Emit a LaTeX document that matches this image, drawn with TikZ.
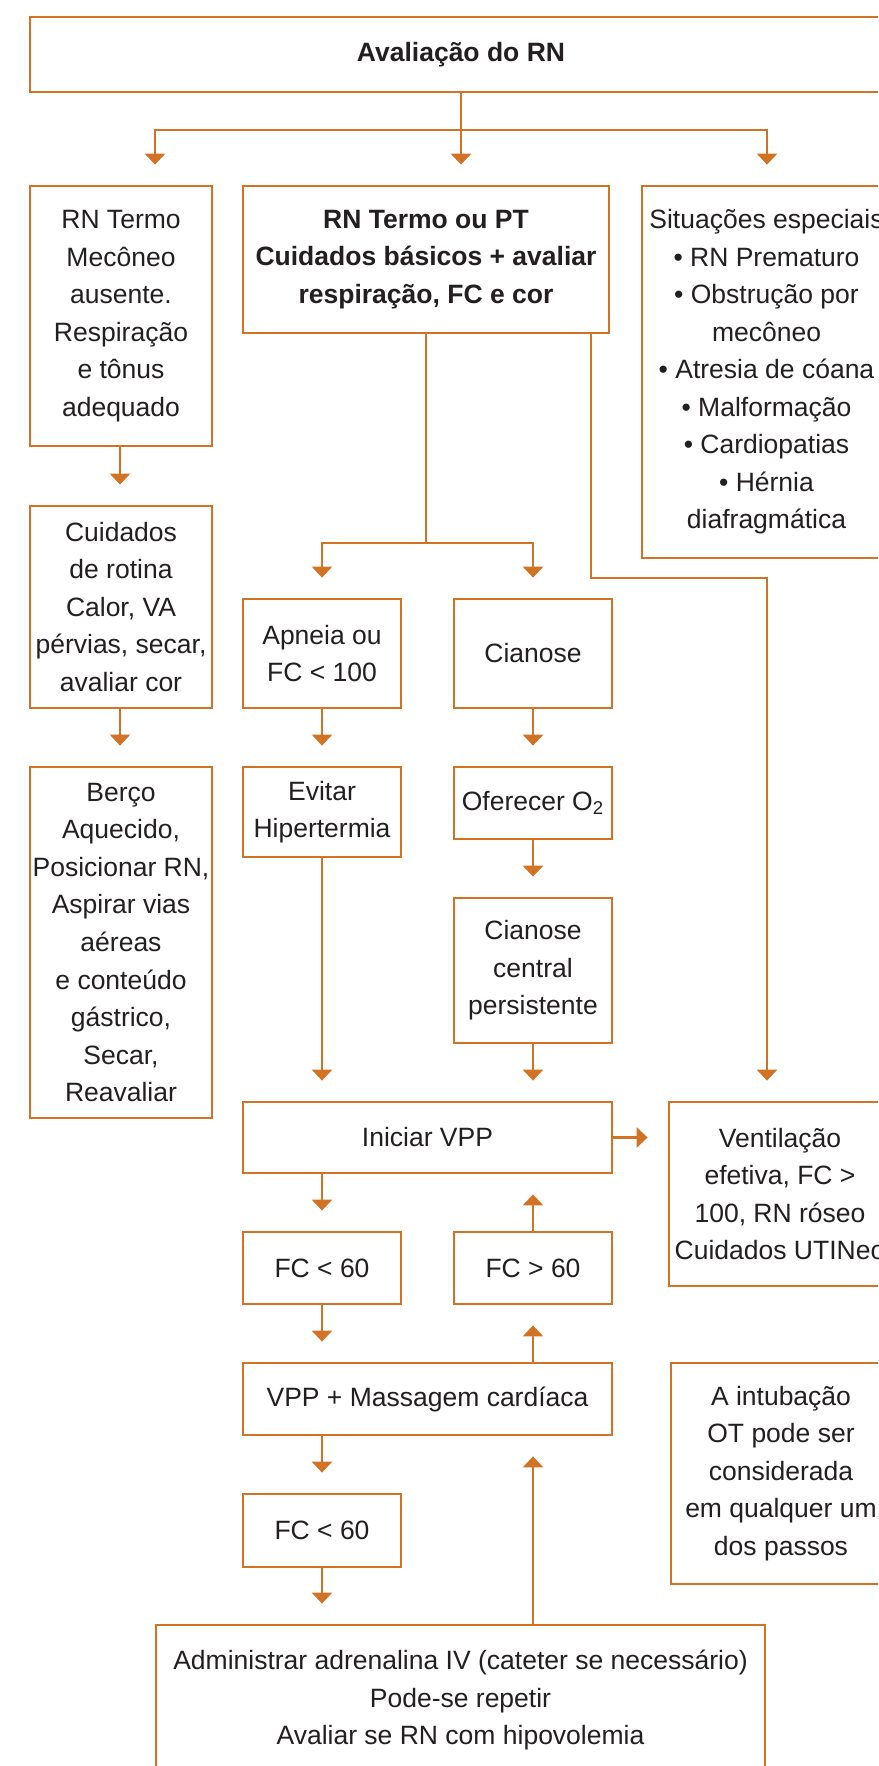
\documentclass[tikz,border=0pt]{standalone}
\usepackage{fontspec}
\setmainfont{Liberation Sans}
\usetikzlibrary{arrows.meta}
\definecolor{orng}{RGB}{209,114,36}
\definecolor{txt}{RGB}{35,31,32}
\newcommand{\myfs}{\fontsize{13.25pt}{18.75pt}\selectfont}
\begin{document}
\begin{tikzpicture}[x=0.5pt,y=-0.5pt,
  box/.style={draw=orng, line width=1.4pt, inner sep=0pt, align=center, text=txt, font=\myfs},
  ln/.style={draw=orng, line width=1.3pt},
  arr/.style={ln, -{Triangle[width=10pt,length=5.5pt]}, shorten >=10pt}]
\path[use as bounding box] (0,0) rectangle (878,1766);
\clip (0,0) rectangle (878,1766);
\fill[white] (0,0) rectangle (878,1766);
% nodes
\node[box, minimum width=431pt, minimum height=37.5pt] (top) at (461,54.5) {\bfseries Avaliação do RN};
\node[box, minimum width=91pt, minimum height=130pt] (l1) at (121,316) {RN Termo\\Mecôneo\\ausente.\\Respiração\\e tônus\\adequado};
\node[box, minimum width=91pt, minimum height=101pt] (l2) at (121,607) {Cuidados\\de rotina\\Calor, VA\\pérvias, secar,\\avaliar cor};
\node[box, minimum width=91pt, minimum height=175.5pt] (l3) at (121,942.5) {Berço\\Aquecido,\\Posicionar RN,\\Aspirar vias\\aéreas\\e conteúdo\\gástrico,\\Secar,\\Reavaliar};
\node[box, minimum width=183pt, minimum height=73.5pt] (c1) at (426,259.5) {\bfseries RN Termo ou PT\\\bfseries Cuidados básicos + avaliar\\\bfseries respiração, FC e cor};
\node[box, minimum width=124.5pt, minimum height=186pt] (r1) at (766.5,372) {Situações especiais\\• RN Prematuro\\• Obstrução por\\mecôneo\\• Atresia de cóana\\• Malformação\\• Cardiopatias\\• Hérnia\\diafragmática};
\node[box, minimum width=79pt, minimum height=54.5pt] (apn) at (322,653.5) {Apneia ou\\FC < 100};
\node[box, minimum width=79pt, minimum height=54.5pt] (cia) at (533,653.5) {Cianose};
\node[box, minimum width=79pt, minimum height=45pt] (evi) at (322,812) {Evitar\\Hipertermia};
\node[box, minimum width=79pt, minimum height=36pt] (ofe) at (533,803) {Oferecer O\textsubscript{2}};
\node[box, minimum width=79pt, minimum height=72.5pt] (ccp) at (533,970.5) {Cianose\\central\\persistente};
\node[box, minimum width=184.5pt, minimum height=35.5pt] (ini) at (427.5,1137.5) {Iniciar VPP};
\node[box, minimum width=111pt, minimum height=92pt] (ven) at (780,1194) {Ventilação\\efetiva, FC >\\100, RN róseo\\Cuidados UTINeo};
\node[box, minimum width=79pt, minimum height=36pt] (fca) at (322,1268) {FC < 60};
\node[box, minimum width=79pt, minimum height=36pt] (fcb) at (533,1268) {FC > 60};
\node[box, minimum width=184.5pt, minimum height=36pt] (vpp) at (427.5,1399) {VPP + Massagem cardíaca};
\node[box, minimum width=79pt, minimum height=36.5pt] (fcc) at (322,1530.5) {FC < 60};
\node[box, minimum width=110pt, minimum height=110.5pt] (itb) at (781,1473.5) {A intubação\\OT pode ser\\considerada\\em qualquer um\\dos passos};
\node[box, minimum width=304.5pt, minimum height=75pt] (adr) at (460.5,1700) {Administrar adrenalina IV (cateter se necessário)\\Pode-se repetir\\Avaliar se RN com hipovolemia};
% helper coordinates
\coordinate (bar) at (461,130);
\coordinate (a1) at (155,130);
\coordinate (a3) at (767,130);
\coordinate (cb) at (426,543);
\coordinate (k1) at (591,578);
\coordinate (k2) at (767,578);
% connectors
\draw[arr] (top.south) -- (c1.north -| bar);
\draw[arr] (bar) -| (l1.north -| a1);
\draw[arr] (bar) -| (r1.north -| a3);
\draw[arr] (l1.south -| 120,0) -- (l2.north -| 120,0);
\draw[arr] (l2.south -| 120,0) -- (l3.north -| 120,0);
\draw[arr] (c1.south -| cb) -- (cb) -| (apn.north);
\draw[arr] (cb) -| (cia.north);
\draw[arr] (c1.south -| k1) -- (k1) -- (k2) -- (ven.north -| k2);
\draw[arr] (apn.south) -- (evi.north);
\draw[arr] (cia.south) -- (ofe.north);
\draw[arr] (ofe.south) -- (ccp.north);
\draw[arr] (evi.south) -- (ini.north -| evi.south);
\draw[arr] (ccp.south) -- (ini.north -| ccp.south);
\draw[arr] (ini.east) -- (ven.west |- ini.east);
\draw[arr] (ini.south -| fca.north) -- (fca.north);
\draw[arr] (fcb.north) -- (ini.south -| fcb.north);
\draw[arr] (fca.south) -- (vpp.north -| fca.south);
\draw[arr] (vpp.north -| fcb.south) -- (fcb.south);
\draw[arr] (vpp.south -| fcc.north) -- (fcc.north);
\draw[arr] (fcc.south) -- (adr.north -| fcc.south);
\draw[arr] (adr.north -| fcb.south) -- (vpp.south -| fcb.south);
\end{tikzpicture}
\end{document}
